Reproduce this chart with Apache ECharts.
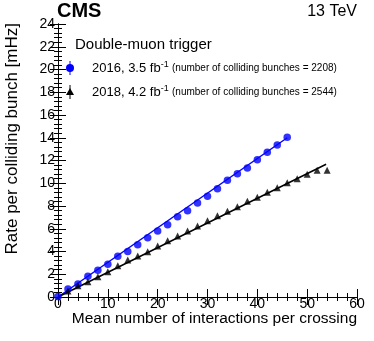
<!DOCTYPE html>
<html><head><meta charset="utf-8">
<script src="https://cdn.jsdelivr.net/npm/echarts@6/dist/echarts.min.js"></script>
<style>html,body{margin:0;padding:0;background:#fff}#c{width:374px;height:341px}</style>
</head><body><div id="c"></div>
<script>
const xTicks = [0, 10, 20, 30, 40, 50, 60];
const yTicks = [0, 2, 4, 6, 8, 10, 12, 14, 16, 18, 20, 22, 24];
const mu2016 = [0,2,4,6,8,10,12,14,16,18,20,22,24,26,28,30,32,34,36,38,40,42,44,46];
const rate2016 = [0.05,0.70,1.14,1.82,2.35,2.87,3.58,4.01,4.60,5.21,5.80,6.36,7.06,7.59,8.26,8.85,9.52,10.26,10.84,11.34,12.07,12.72,13.36,14.04];
const mu2018 = [2,4,6,8,10,12,14,16,18,20,22,24,26,28,30,32,34,36,38,40,42,44,46,48,50,52,54];
const rate2018 = [0.53,1.0,1.35,1.79,2.22,2.75,3.25,3.6,3.98,4.48,4.95,5.36,5.80,6.24,6.71,7.15,7.53,7.94,8.41,8.76,9.2,9.61,10.05,10.4,10.79,11.14,11.14];
const fit2016 = [[0, 0], [46, 14.0]];
const fit2018 = [[0, 0], [53.8, 11.67]];
const labels2016 = ['2016, 3.5 fb', '(number of colliding bunches = 2208)'];
const labels2018 = ['2018, 4.2 fb', '(number of colliding bunches = 2544)'];

const FONT = 'Liberation Sans, Arial, Helvetica, sans-serif';
const chart = echarts.init(document.getElementById('c'));
const L = 58, T = 24, W = 299, H = 273;
const axisCommon = {
  axisLine: {show: true, lineStyle: {color: '#000', width: 1}},
  splitLine: {show: false}
};
chart.setOption({
  animation: false,
  grid: {left: L, top: T, width: W, height: H},
  xAxis: [
    Object.assign({type: 'value', min: xTicks[0], max: xTicks[xTicks.length-1], interval: 10,
      axisTick: {inside: true, length: 8, lineStyle: {color: '#000'}},
      minorTick: {show: true, splitNumber: 5, length: 4, lineStyle: {color: '#000'}},
      axisLabel: {color: '#000', fontSize: 14, fontFamily: FONT, margin: 0}}, axisCommon),
    Object.assign({type: 'value', position: 'top', min: xTicks[0], max: xTicks[xTicks.length-1], interval: 10,
      axisTick: {inside: true, length: 8, lineStyle: {color: '#000'}},
      minorTick: {show: true, splitNumber: 5, length: 4, lineStyle: {color: '#000'}},
      axisLabel: {show: false}}, axisCommon)
  ],
  yAxis: [
    Object.assign({type: 'value', min: yTicks[0], max: yTicks[yTicks.length-1], interval: 2,
      axisTick: {inside: true, length: 8, lineStyle: {color: '#000'}},
      minorTick: {show: true, splitNumber: 5, length: 4, lineStyle: {color: '#000'}},
      axisLabel: {color: '#000', fontSize: 14, fontFamily: FONT, margin: 3}}, axisCommon),
    Object.assign({type: 'value', position: 'right', min: yTicks[0], max: yTicks[yTicks.length-1], interval: 2,
      axisTick: {inside: true, length: 8, lineStyle: {color: '#000'}},
      minorTick: {show: true, splitNumber: 5, length: 4, lineStyle: {color: '#000'}},
      axisLabel: {show: false}}, axisCommon)
  ],
  series: [
    {type: 'line', data: fit2016, symbol: 'none', lineStyle: {color: '#0000ff', width: 1.5}, z: 2},
    {type: 'line', data: fit2018, symbol: 'none', lineStyle: {color: '#000', width: 1.5}, z: 2},
    {type: 'scatter', data: mu2016.map((m, i) => [m, rate2016[i]]), symbol: 'circle', symbolSize: 7.5,
      itemStyle: {color: '#0000ff'}, z: 3},
    {type: 'scatter', data: mu2018.map((m, i) => [m, rate2018[i]]), symbol: 'triangle', symbolSize: 7,
      itemStyle: {color: '#000'}, z: 3}
  ],
  graphic: [
    {type: 'text', left: 57, top: 1, style: {text: 'CMS', font: 'bold 20px ' + FONT, fill: '#000'}},
    {type: 'text', right: 17, top: 4, style: {text: '13 TeV', font: '16px ' + FONT, fill: '#000'}},
    {type: 'text', left: 75, top: 37, style: {text: 'Double-muon trigger', font: '15px ' + FONT, fill: '#000'}},
    {type: 'line', shape: {x1: 70, y1: 61, x2: 70, y2: 75}, style: {stroke: '#0000ff', lineWidth: 1}},
    {type: 'circle', shape: {cx: 70, cy: 68, r: 4}, style: {fill: '#0000ff'}},
    {type: 'line', shape: {x1: 70, y1: 85, x2: 70, y2: 99}, style: {stroke: '#000', lineWidth: 1}},
    {type: 'polygon', shape: {points: [[70, 88], [66, 95], [74, 95]]}, style: {fill: '#000'}},
    {type: 'text', left: 92, top: 60, style: {
      text: '{a|' + labels2016[0] + '}{s|-1} {b|' + labels2016[1] + '}',
      rich: {a: {font: '13px ' + FONT, fill: '#000'}, s: {font: '9px ' + FONT, fill: '#000', verticalAlign: 'top', padding: [0,0,8,0]}, b: {font: '10px ' + FONT, fill: '#000'}}}},
    {type: 'text', left: 92, top: 84, style: {
      text: '{a|' + labels2018[0] + '}{s|-1} {b|' + labels2018[1] + '}',
      rich: {a: {font: '13px ' + FONT, fill: '#000'}, s: {font: '9px ' + FONT, fill: '#000', verticalAlign: 'top', padding: [0,0,8,0]}, b: {font: '10px ' + FONT, fill: '#000'}}}},
    {type: 'text', x: 12, y: 23, rotation: Math.PI / 2, style: {text: 'Rate per colliding bunch [mHz]', font: '17px ' + FONT, fill: '#000', align: 'right', verticalAlign: 'middle'}},
    {type: 'text', right: 17, top: 311, style: {text: 'Mean number of interactions per crossing', font: '15.5px ' + FONT, fill: '#000'}}
  ]
});
</script></body></html>
